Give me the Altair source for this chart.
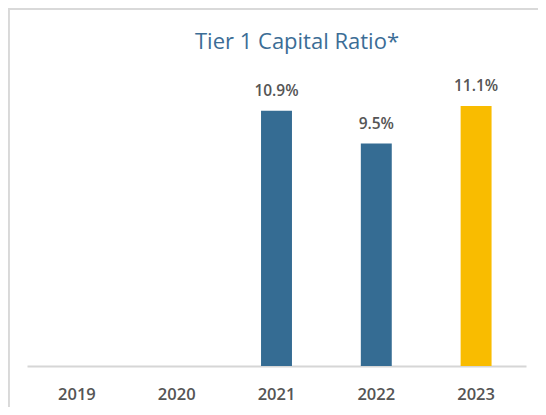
import altair as alt
import pandas as pd

years = ["2019", "2020", "2021", "2022", "2023"]
values = [None, None, 10.9, 9.5, 11.1]
labels = ["", "", "10.9%", "9.5%", "11.1%"]
groups = ["past", "past", "past", "past", "current"]

df = pd.DataFrame({"year": years, "value": values, "label": labels, "group": groups})

FONT = "Open Sans"
W, H = 530, 399

x = alt.X("year:O", sort=years,
          scale=alt.Scale(range=[19, 518], paddingInner=0.69, paddingOuter=0.345),
          axis=alt.Axis(title=None, labelAngle=0, ticks=False, offset=-(H - 358),
                        domainColor="#d6d6d6", domainWidth=2,
                        labelColor="#555555", labelFontSize=16.5, labelPadding=20,
                        labelFont=FONT, labelFontWeight=600))
y = alt.Y("value:Q", scale=alt.Scale(domain=[0, 12], range=[358, 77], nice=False, zero=True),
          axis=None)

bars = alt.Chart(df).mark_bar().encode(
    x=x, y=y,
    color=alt.Color("group:N", scale=alt.Scale(domain=["past", "current"],
                                               range=["#356c93", "#f9bc00"]), legend=None),
)
text = alt.Chart(df).mark_text(baseline="alphabetic", dy=-15, fontSize=15.5, font=FONT,
                               fontWeight=600, color="#555555").encode(
    x=x, y=y, text="label:N")

frame_top = alt.Chart(df).mark_rule(color="#d9d9d9", strokeWidth=2).encode(
    x=alt.value(0), x2=alt.value(W), y=alt.value(1))
frame_left = alt.Chart(df).mark_rule(color="#d9d9d9", strokeWidth=2).encode(
    x=alt.value(0.5), y=alt.value(0), y2=alt.value(H))

chart = (frame_top + frame_left + bars + text).properties(
    width=W, height=H,
    padding=0,
    autosize=alt.AutoSizeParams(type="none"),
    title=alt.TitleParams("Tier 1 Capital Ratio*", anchor="middle", frame="group",
                          offset=-64, dx=24, baseline="alphabetic",
                          fontSize=22, font=FONT, fontWeight="normal", color="#3b6d96"),
).configure_view(stroke=None).configure(background="white")

chart.save("out.html", embed_options={"renderer": "svg", "actions": False})
